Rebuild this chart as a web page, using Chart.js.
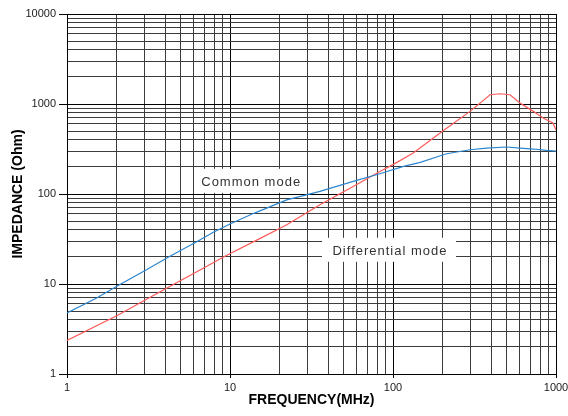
<!DOCTYPE html>
<html><head><meta charset="utf-8">
<script src="https://cdn.jsdelivr.net/npm/chart.js@4/dist/chart.umd.min.js"></script>
<style>html,body{margin:0;padding:0;background:#fff}#wrap{width:568px;height:416px;position:relative}</style>
</head><body><div id="wrap"><canvas id="c"></canvas></div>
<script>
// ---- data ----
const commonFreq = [1, 1.52, 2.06, 2.94, 4.28, 6.25, 7.9, 10, 14, 22.3, 35.6, 57, 83, 116, 147, 213, 297, 375, 497, 601, 726, 873, 1000];
const commonZ    = [4.76, 7.0, 9.6, 13.8, 20.3, 29.5, 37.5, 46.5, 61, 86, 107, 138, 168, 203, 225, 280, 310, 324, 333, 324, 316, 305, 300];
const diffFreq   = [1, 2.02, 3, 4.49, 6.55, 9.3, 15, 22.3, 35.6, 57, 83, 100, 133, 204, 297, 394, 453, 522, 601, 726, 834, 957, 1000];
const diffZ      = [2.36, 4.44, 6.6, 9.85, 14.3, 20.3, 31.5, 45.6, 76, 121, 178, 212, 286, 509, 828, 1268, 1300, 1268, 1026, 828, 699, 615, 518];
const seriesNames = ['Common mode', 'Differential mode'];
const xTickLabels = ['1', '10', '100', '1000'];
const yTickLabels = ['1', '10', '100', '1000', '10000'];
const xTitle = 'FREQUENCY(MHz)';
const yTitle = 'IMPEDANCE (Ohm)';

function logTicks(min, max) {
  const t = [];
  for (let d = min; d < max; d *= 10) for (let k = 1; k < 10; k++) t.push({ value: k * d });
  t.push({ value: max });
  return t;
}
const isDecade = v => Math.abs(Math.log10(v) - Math.round(Math.log10(v))) < 1e-9;
const pts = (xs, ys) => xs.map((x, i) => ({ x, y: ys[i] }));
const FONT = '"Liberation Sans", Arial, sans-serif';

const labelPlugin = {
  id: 'seriesLabels',
  beforeDatasetsDraw(chart) {
    const { ctx, scales: { x, y } } = chart;
    const items = [
      { text: seriesNames[0], fx: 13.3, fy: 140, w: 106, h: 24 },
      { text: seriesNames[1], fx: 94.5, fy: 24.0, w: 134, h: 24 }
    ];
    ctx.save();
    ctx.font = '13px ' + FONT;
    ctx.letterSpacing = '1px';
    ctx.textAlign = 'center';
    ctx.textBaseline = 'middle';
    for (const it of items) {
      const cx = x.getPixelForValue(it.fx), cy = y.getPixelForValue(it.fy);
      ctx.fillStyle = '#fff';
      ctx.fillRect(cx - it.w / 2, cy - it.h / 2, it.w, it.h);
      ctx.fillStyle = '#333';
      ctx.fillText(it.text, cx + 1, cy + 2);
    }
    ctx.restore();
  }
};

new Chart(document.getElementById('c'), {
  type: 'scatter',
  data: {
    datasets: [
      { label: seriesNames[0], data: pts(commonFreq, commonZ), showLine: true, borderColor: '#2c86cf', borderWidth: 1.2, pointRadius: 0, tension: 0 },
      { label: seriesNames[1], data: pts(diffFreq, diffZ), showLine: true, borderColor: '#ff5a5a', borderWidth: 1.2, pointRadius: 0, tension: 0 }
    ]
  },
  options: {
    responsive: true, maintainAspectRatio: false, animation: false,
    layout: { padding: { top: 14, right: 12, left: 0, bottom: 0 } },
    plugins: { legend: { display: false }, tooltip: { enabled: false } },
    scales: {
      x: {
        type: 'logarithmic', min: 1, max: 1000,
        afterBuildTicks: s => { s.ticks = logTicks(1, 1000); },
        afterFit: s => { s.height = 42; s.paddingLeft = 0; s.paddingRight = 0; },
        border: { color: '#000', width: 1 },
        grid: {
          color: c => (c.tick && isDecade(c.tick.value)) ? '#000' : '#3c3c3c',
          lineWidth: 1, tickLength: 4,
          tickColor: c => (c.tick && isDecade(c.tick.value)) ? '#000' : 'rgba(0,0,0,0)'
        },
        ticks: {
          autoSkip: false, maxRotation: 0, padding: 3, color: '#222',
          font: { family: FONT, size: 11 },
          callback: v => xTickLabels.includes(String(v)) ? String(v) : ''
        },
        title: { display: true, text: xTitle, color: '#000', font: { family: FONT, size: 14, weight: 'bold' }, padding: { top: 0, bottom: 7 } }
      },
      y: {
        type: 'logarithmic', min: 1, max: 10000,
        afterBuildTicks: s => { s.ticks = logTicks(1, 10000); },
        afterFit: s => { s.width = 67; s.paddingTop = 0; s.paddingBottom = 0; },
        border: { color: '#000', width: 1 },
        grid: {
          color: c => (c.tick && isDecade(c.tick.value)) ? '#000' : '#3c3c3c',
          lineWidth: 1, tickLength: 8,
          tickColor: c => (c.tick && isDecade(c.tick.value)) ? '#000' : 'rgba(0,0,0,0)'
        },
        ticks: {
          autoSkip: false, padding: 3, color: '#222',
          font: { family: FONT, size: 11 },
          callback: v => yTickLabels.includes(String(v)) ? String(v) : ''
        },
        title: { display: true, text: yTitle, color: '#000', font: { family: FONT, size: 14, weight: 'bold' }, padding: { top: 10, bottom: 0 } }
      }
    }
  },
  plugins: [labelPlugin]
});
</script>
</body></html>
